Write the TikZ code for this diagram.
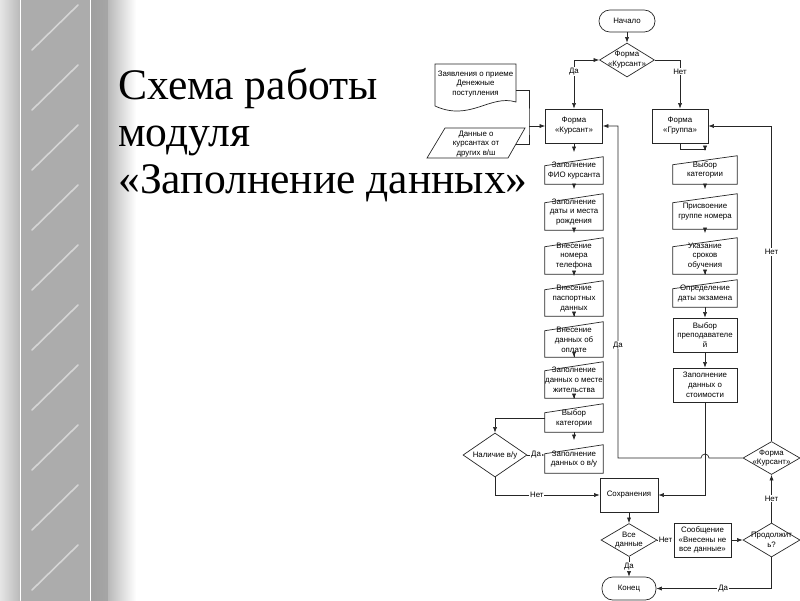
\documentclass[tikz,border=0pt]{standalone}
\usepackage{fontspec}
\setmainfont{Liberation Serif}
\newfontfamily\schemefont{Liberation Sans}
\usetikzlibrary{shapes.geometric,arrows.meta}

\begin{document}
\begin{tikzpicture}[x=0.025cm, y=-0.025cm,
    every node/.style={inner sep=0pt, align=center, font=\schemefont\fontsize{5.6}{7}\selectfont},
    line/.style={draw=black!85, line width=0.5pt},
    arr/.style={line, -{Latex[length=4pt,width=3pt]}},
    arr2/.style={line, {Latex[length=4pt,width=3pt]}-{Latex[length=4pt,width=3pt]}},
    tin/.style={arr, shorten >=0.1125cm},
    sz/.style 2 args={minimum width=#1*0.025cm, minimum height=#2*0.025cm},
    box/.style={rectangle, line},
    term/.style={rectangle, rounded corners=0.27cm, line},
    dia/.style={diamond, line},
    manin/.style={rectangle},
    lbl/.style={fill=white, inner sep=0.6pt}]
\useasboundingbox (0,0) rectangle (800,600);

\shade[left color=gray!20, right color=gray!55] (0,0) rectangle (20,600);
\shade[left color=gray!65, middle color=gray!28, right color=gray!65] (21,0) rectangle (90,600);
\foreach \k in {0,...,10}
    \draw[white, opacity=0.5, line width=0.04cm, line cap=round] (32,60*\k+50) -- (78,60*\k+5);
\shade[left color=gray!75, middle color=gray!30, right color=gray!70] (91,0) rectangle (108,600);
\shade[left color=gray!55, right color=white] (108,0) rectangle (136,600);
\draw[white, line width=0.03cm] (20.5,0) -- (20.5,600) (90.5,0) -- (90.5,600);

\node[anchor=base west, align=left, font=\fontsize{31}{33.4}\selectfont] (title) at (118,193)
    {Схема работы\\модуля\\«Заполнение данных»};

\node[term, sz={56}{22}] (beg) at (627,21) {Начало};
\node[dia, sz={55}{34}, label={center:{Форма\\«Курсант»}}] (fk0) at (627,60) {};
\node[box, sz={57}{34}] (fk) at (574,126) {Форма\\«Курсант»};
\node[box, sz={56}{34}] (grp) at (680,126) {Форма\\«Группа»};
\node[sz={81}{42}] (doc) at (475.5,84) {Заявления о приеме\\Денежные\\поступления};
\node[sz={80}{30}] (oth) at (476,144) {Данные о\\курсантах от\\других в/ш};
\coordinate (jn) at (529,126);

\node[manin, sz={58}{27}] (fio) at (574,170.5) {Заполнение\\ФИО курсанта};
\node[manin, sz={58}{36}] (birth) at (574,212) {Заполнение\\даты и места\\рождения};
\node[manin, sz={58}{36}] (phone) at (574,256) {Внесение\\номера\\телефона};
\node[manin, sz={58}{35}] (pass) at (574,298.5) {Внесение\\паспортных\\данных};
\node[manin, sz={58}{35}] (pay) at (574,339.5) {Внесение\\данных об\\оплате};
\node[manin, sz={58}{36}] (addr) at (574,380) {Заполнение\\данных о месте\\жительства};
\node[manin, sz={58}{28}] (cat) at (574,418) {Выбор\\категории};
\node[manin, sz={58}{28}] (lic) at (574,459) {Заполнение\\данных о в/у};

\node[manin, sz={64}{28}] (rcat) at (705,170) {Выбор\\категории};
\node[manin, sz={64}{35}] (ass) at (705,211.5) {Присвоение\\группе номера};
\node[manin, sz={64}{36}] (term) at (705,256) {Указание\\сроков\\обучения};
\node[manin, sz={64}{27}] (exam) at (705,293.5) {Определение\\даты экзамена};
\node[box, sz={64}{34}] (teach) at (705,335) {Выбор\\преподавателе\\й};
\node[box, sz={64}{34}] (cost) at (705,385) {Заполнение\\данных о\\стоимости};

\node[dia, sz={64}{44}, label={center:{Наличие в/у}}] (nal) at (495,455) {};
\node[box, sz={58}{34}] (sav) at (629,495) {Сохранения};
\node[dia, sz={56}{33}, label={center:{Все\\данные}}] (vse) at (629,540) {};
\node[box, sz={57}{34}] (msg) at (702.5,540) {Сообщение\\«Внесены не\\все данные»};
\node[dia, sz={57}{34}, label={center:{Продолжит\\ь?}}] (prod) at (771.5,540) {};
\node[dia, sz={57}{33}, label={center:{Форма\\«Курсант»}}] (fk1) at (771.5,458) {};
\node[term, sz={54}{23}] (kon) at (629,588.5) {Конец};

\foreach \n in {fio,birth,phone,pass,pay,addr,cat,lic,rcat,ass,term,exam}
    \draw[line] (\n.south west) -- (\n.south east) -- (\n.north east) -- ([yshift=-0.225cm]\n.north west) -- cycle;
\draw[line] (435,106) -- (435,64) -- (516,64) -- (516,102) .. controls (490,94) and (470,122) .. (435,106);
\draw[line] (445,128) -- (525,128) -- (508,158) -- (427,158) -- cycle;

\draw[arr] (beg) -- (fk0);
\draw[arr2] (fk0.west) -| node[lbl, pos=0.62] {Да} (fk.north);
\draw[arr] (fk0.east) -| node[lbl, pos=0.62] {Нет} (grp.north);
\draw[line] ([yshift=-0.15cm]doc.east) -| (jn) |- (oth.east);
\draw[arr] (jn) -- (fk.west);
\draw[tin] (fk) -- (fio.north);
\foreach \a/\b in {fio/birth, birth/phone, phone/pass, pass/pay, pay/addr, addr/cat, cat/lic, rcat/ass, ass/term, term/exam}
    \draw[tin] (\a) -- (\b.north);
\draw[tin] (grp.south) -- ++(0,6) -| (rcat.north);
\draw[arr] (exam) -- (teach);
\draw[arr] (teach) -- (cost);
\draw[arr] (cat.west) -| (nal.north);
\draw[arr] (nal.east) -- node[lbl] {Да} (nal.east -| lic.west);
\draw[arr] (nal.south) |- node[lbl, pos=0.7] {Нет} (sav.west);
\draw[arr] (cost) |- (sav.east);
\draw[arr] (sav) -- (vse);
\draw[arr] (vse) -- node[lbl] {Нет} (msg);
\draw[arr] (msg) -- (prod);
\draw[arr] (vse) -- node[lbl] {Да} (kon);
\draw[arr] (prod) -- node[lbl] {Нет} (fk1);
\draw[arr] (prod.south) |- node[lbl, pos=0.71] {Да} (kon.east);
\draw[arr] (fk1.north) |- node[lbl, pos=0.3] {Нет} (grp.east);
\draw[arr] (fk1.west) -- (709,458) arc[start angle=0, end angle=180, radius=0.1cm] -- (618,458)
    -- node[lbl, pos=0.34] {Да} (618,126) -- (fk.east);
\end{tikzpicture}
\end{document}
